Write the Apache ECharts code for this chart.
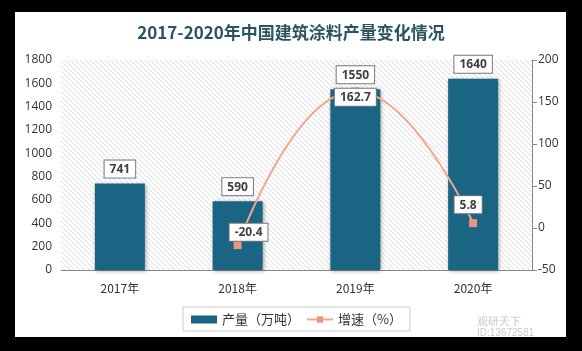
<!DOCTYPE html>
<html lang="zh">
<head>
  <meta charset="utf-8">
</head>
<body style="margin: 0; background: #000;">
  <div id="paper" style="position: absolute; left: 15px; top: 12px; width: 551px; height: 325px; background: #fff;"></div>
  <div id="container" style="position: absolute; left: 0; top: 0; width: 582px; height: 351px;"></div>

  <script type="text/javascript" src="https://fastly.jsdelivr.net/npm/echarts@6/dist/echarts.min.js"></script>
  <script type="text/javascript">
    // 数据
    var years = ['2017年', '2018年', '2019年', '2020年'];
    var output = [741, 590, 1550, 1640];
    var growth = [null, -20.4, 162.7, 5.8];

    // 斜线底纹
    var hatch = document.createElement('canvas');
    hatch.width = 5;
    hatch.height = 5;
    var hc = hatch.getContext('2d');
    hc.fillStyle = '#fff';
    hc.fillRect(0, 0, 5, 5);
    hc.strokeStyle = '#dedede';
    hc.lineWidth = 1;
    hc.beginPath();
    hc.moveTo(-1, -1); hc.lineTo(6, 6);
    hc.moveTo(-1, 4); hc.lineTo(1, 6);
    hc.moveTo(4, -1); hc.lineTo(6, 1);
    hc.stroke();

    var boxLabel = {
      show: true,
      backgroundColor: '#fff',
      borderColor: '#777',
      borderWidth: 1,
      padding: [3, 5, 2, 5],
      color: '#404040',
      fontSize: 12,
      fontWeight: 'bold',
      fontFamily: 'Open Sans'
    };

    // 增速标签的位置调整
    var growthLabelPos = [null, { position: 'right', offset: [-17, -13] }, { position: 'inside', offset: [0, 6] }, { position: 'top', offset: [-5, -1] }];

    var dom = document.getElementById('container');
    var myChart = echarts.init(dom, null, { renderer: 'canvas' });

    var option = {
      animation: false,
      textStyle: { fontFamily: 'Noto Sans CJK SC' },
      title: {
        text: '2017-2020年中国建筑涂料产量变化情况',
        left: 'center',
        top: 19,
        textStyle: { fontSize: 17, fontWeight: 'bold', color: '#2a5462', fontFamily: 'Noto Sans CJK SC' }
      },
      grid: {
        left: 61, right: 50, top: 60, bottom: 81,
        show: true,
        borderWidth: 0,
        backgroundColor: { image: hatch, repeat: 'repeat' }
      },
      legend: {
        bottom: 20,
        left: 183,
        itemGap: 6,
        itemWidth: 26,
        itemHeight: 8,
        padding: [6, 8, 5, 8],
        borderColor: '#ccc',
        borderWidth: 1,
        textStyle: { fontSize: 13, color: '#333' },
        data: [
          { name: '产量（万吨）', icon: 'rect' },
          { name: '增速（%）' }
        ]
      },
      xAxis: {
        type: 'category',
        data: years,
        axisLine: { lineStyle: { color: '#888' } },
        axisTick: { show: false },
        axisLabel: { color: '#333', fontSize: 12, margin: 12 }
      },
      yAxis: [
        {
          type: 'value',
          min: 0, max: 1800, interval: 200,
          axisLine: { show: false },
          axisTick: { show: false },
          splitLine: { show: false },
          axisLabel: { color: '#333', fontSize: 12, fontFamily: 'Open Sans', margin: 9, formatter: function (v) { return String(v); } }
        },
        {
          type: 'value',
          min: -50, max: 200, interval: 50,
          position: 'right',
          axisLine: { show: true, lineStyle: { color: '#888' } },
          axisTick: { show: true, length: 5, lineStyle: { color: '#888' } },
          splitLine: { show: false },
          axisLabel: { color: '#333', fontSize: 12, fontFamily: 'Open Sans', margin: 6 }
        }
      ],
      series: [
        {
          name: '产量（万吨）',
          type: 'bar',
          data: output,
          barWidth: 50,
          itemStyle: {
            color: '#1b6584',
            shadowColor: 'rgba(0,0,0,0.35)',
            shadowBlur: 4,
            shadowOffsetX: 1,
            shadowOffsetY: 1
          },
          label: Object.assign({ position: 'top', distance: 6 }, boxLabel)
        },
        {
          name: '增速（%）',
          type: 'line',
          yAxisIndex: 1,
          smooth: true,
          connectNulls: false,
          data: growth.map(function (v, i) {
            if (v === null) return null;
            return { value: v, label: growthLabelPos[i] };
          }),
          symbol: 'rect',
          symbolSize: 8,
          showAllSymbol: true,
          lineStyle: { color: '#f0a78e', width: 2 },
          itemStyle: { color: '#e9967c' },
          label: boxLabel,
          z: 5
        }
      ],
      graphic: [
        {
          type: 'text', left: 477, top: 316,
          style: { text: '观研天下', fill: '#c8c8c8', fontSize: 11 }
        },
        {
          type: 'text', left: 477, top: 328,
          style: { text: 'ID:13672581', fill: '#c8c8c8', fontSize: 10 }
        }
      ]
    };

    myChart.setOption(option);
    window.addEventListener('resize', myChart.resize);
  </script>
</body>
</html>
